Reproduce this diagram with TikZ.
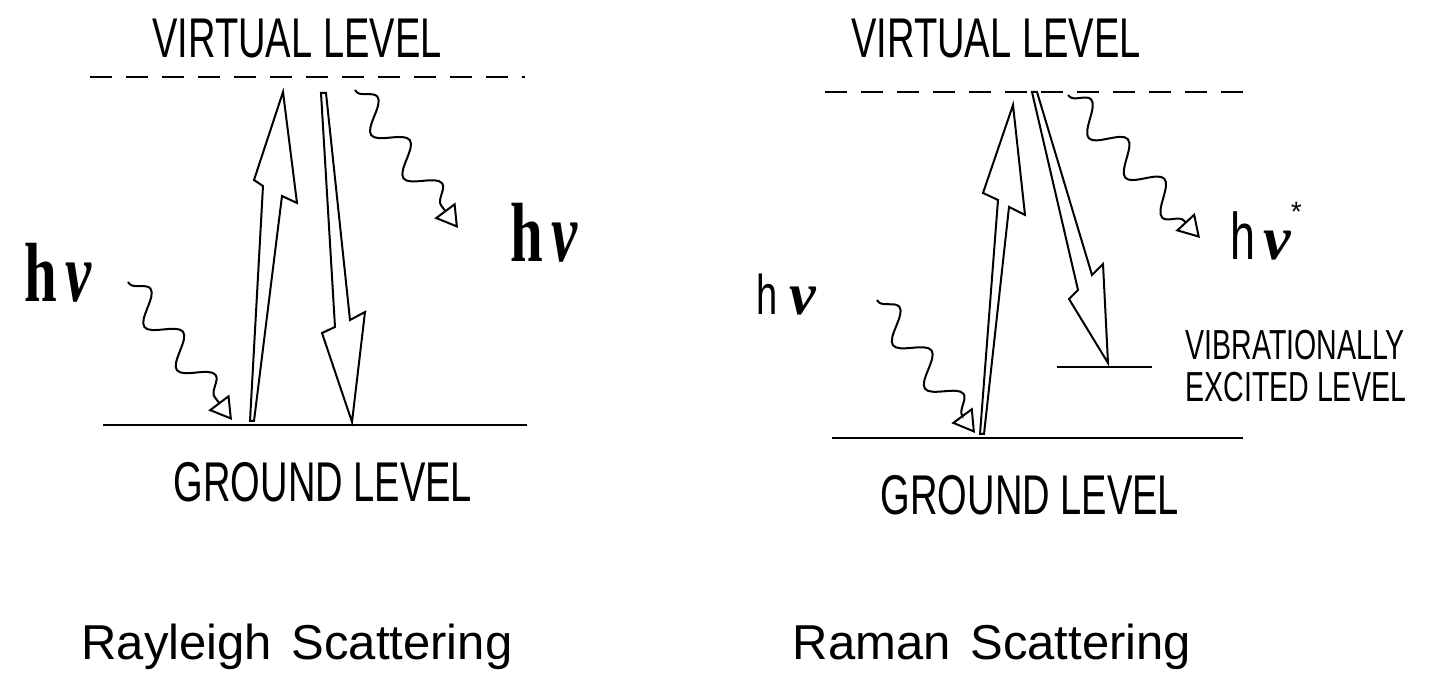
\documentclass[tikz,border=0pt]{standalone}
\usepackage{fontspec}
\setmainfont{Liberation Serif}
\newfontfamily\narrowsans[FakeStretch=0.68]{Liberation Sans}
\newfontfamily\plainsans{Liberation Sans}
\newfontfamily\narrowserif[FakeStretch=0.7]{Liberation Serif}
\usetikzlibrary{arrows.meta,decorations.pathmorphing}
\tikzset{
  level/.style={line width=1pt},
  virtual/.style={line width=1pt, dash pattern=on 11pt off 7pt},
  photon/.style={line width=1pt, decorate,
    decoration={snake, segment length=27pt, amplitude=7pt, pre length=1pt, post length=10pt},
    -{Triangle[open, length=11pt, width=13pt]}},
  hollow/.style={line width=1pt, line join=miter, miter limit=20},
  levellabel/.style={inner sep=0pt, anchor=base, font=\narrowsans\fontsize{28}{30}\selectfont},
  vibtext/.style={inner sep=0pt, anchor=base west, font=\narrowsans\fontsize{21}{23}\selectfont},
  title/.style={inner sep=0pt, anchor=base, font=\plainsans\fontsize{24.5}{28}\selectfont},
  photonlabel/.style={inner sep=0pt, anchor=base west},
}
\begin{document}
\begin{tikzpicture}[x=0.5pt, y={(0pt,-0.5pt)}]
\useasboundingbox (0,0) rectangle (1435,673);
% Rayleigh: levels
\draw[virtual] (90,77) -- (525,77);
\draw[level] (103,425) -- (527,425);
\node[levellabel] (virtRay) at (297,58) {VIRTUAL LEVEL};
\node[levellabel] (gndRay) at (323,502) {GROUND LEVEL};
% Rayleigh: transitions (hollow arrows)
\draw[hollow] (250,421) -- (263,186) -- (254,180) -- (283,92) -- (297,203) -- (282,196) -- (254,421) -- cycle;
\draw[hollow] (321,93) -- (335,327) -- (322,333) -- (352,422) -- (365,312) -- (350,320) -- (326,93) -- cycle;
% Rayleigh: photons
\coordinate (inRay) at (128,282);
\coordinate (inRayTip) at (232,420);
\coordinate (outRay) at (355,90);
\coordinate (outRayTip) at (458,228);
\draw[photon] (inRay) -- (inRayTip);
\draw[photon] (outRay) -- (outRayTip);
\node[photonlabel] (hvRayIn) at (24,302) {\narrowserif\bfseries\fontsize{42}{44}\selectfont h\hspace{4pt}\textit{ν}};
\node[photonlabel] (hvRayOut) at (510,262) {\narrowserif\bfseries\fontsize{42}{44}\selectfont h\hspace{4pt}\textit{ν}};
% Raman: levels
\draw[virtual] (825,92) -- (1245,92);
\draw[level] (832,438) -- (1243,438);
\draw[level] (1057,367) -- (1152,367);
\node[levellabel] (virtRam) at (996,58) {VIRTUAL LEVEL};
\node[levellabel] (gndRam) at (1030,515) {GROUND LEVEL};
\node[vibtext] (vibRam) at (1185,360) {VIBRATIONALLY};
\node[vibtext] (excRam) at (1185,402) {EXCITED LEVEL};
% Raman: transitions (hollow arrows)
\draw[hollow] (980,434) -- (998,200) -- (983,193) -- (1013,105) -- (1025,215) -- (1009,207) -- (984,434) -- cycle;
\draw[hollow] (1032,92) -- (1078,290) -- (1069,299) -- (1108,363) -- (1103,264) -- (1092,275) -- (1037,92) -- cycle;
% Raman: photons
\coordinate (inRam) at (877,300);
\coordinate (inRamTip) at (975,433);
\coordinate (outRam) at (1068,95);
\coordinate (outRamTip) at (1200,238);
\draw[photon] (inRam) -- (inRamTip);
\draw[photon] (outRam) -- (outRamTip);
\node[photonlabel] (hvRamIn) at (756,315) {{\narrowsans\fontsize{28}{30}\selectfont h}\hspace{6pt}{\fontsize{30}{30}\selectfont\bfseries\itshape ν}};
\node[photonlabel] (hvRamOut) at (1230,260) {{\narrowsans\fontsize{33}{35}\selectfont h}\hspace{4pt}{\fontsize{31}{33}\selectfont\bfseries\itshape ν}\raisebox{19pt}{\plainsans\fontsize{14}{14}\selectfont *}};
% Titles
\node[title] (titleRay) at (297,659) {Rayleigh\hspace{3pt} Scattering};
\node[title] (titleRam) at (992,659) {Raman\hspace{3pt} Scattering};
\end{tikzpicture}
\end{document}
